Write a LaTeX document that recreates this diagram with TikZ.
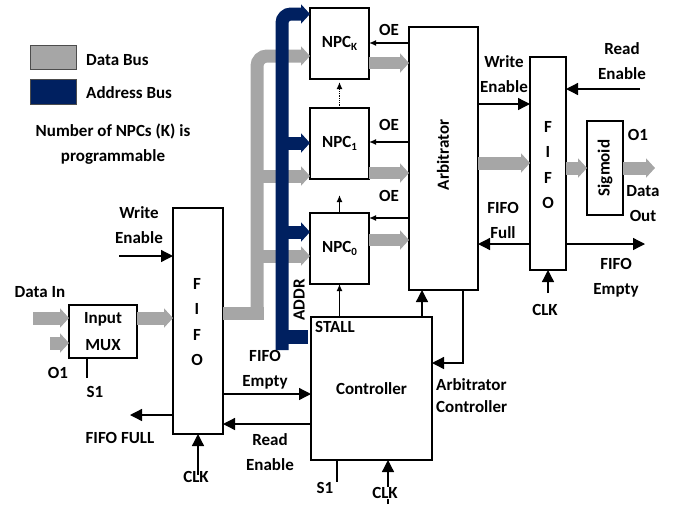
\documentclass[tikz,border=0pt]{standalone}
\usepackage{fontspec}
\setmainfont{Carlito}
\usetikzlibrary{arrows.meta,calc}
\definecolor{busgray}{HTML}{A6A6A6}
\definecolor{navy}{HTML}{002060}
\newcommand\lf{\fontsize{17}{25}\selectfont\bfseries}
\tikzset{
  box/.style={draw, line width=2pt, fill=white, inner sep=0pt, outer sep=0pt, font=\lf, align=center},
  lbl/.style={font=\lf, align=center, inner sep=0pt},
  sig/.style={line width=1.3pt},
  big/.style={sig, -{Triangle[length=12pt,width=12pt]}},
  sml/.style={sig, -{Latex[length=7pt,width=6pt]}},
  gbus/.style={draw=busgray, line width=13pt, -{Triangle[length=9pt,width=19pt]}, color=busgray},
  bbus/.style={draw=navy, line width=13pt, -{Triangle[length=9pt,width=19pt]}, color=navy},
}
\begin{document}
\begin{tikzpicture}[x=1pt,y=-1pt]
\useasboundingbox (0,0) rectangle (690,504);
% boxes
\node[box, minimum width=59pt, minimum height=71pt] (npck) at (339.5,43.5) {NPC\raisebox{-0.35ex}{\fontsize{11}{11}\selectfont K}};
\node[box, minimum width=59pt, minimum height=71pt] (npc1) at (339.5,143.5) {NPC\raisebox{-0.35ex}{\fontsize{11}{11}\selectfont 1}};
\node[box, minimum width=59pt, minimum height=71pt] (npc0) at (339.5,248.5) {NPC\raisebox{-0.35ex}{\fontsize{11}{11}\selectfont 0}};
\node[box, minimum width=69pt, minimum height=263pt] (arb) at (443.5,158.5) {};
\node[lbl, rotate=90] (arbt) at (443,155) {Arbitrator};
\node[box, minimum width=36pt, minimum height=213pt] (fifo2) at (548,163.5) {};
\node[lbl, font=\fontsize{17}{25.3}\selectfont\bfseries] (fifo2t) at (548,165) {F\\I\\F\\O};
\node[box, minimum width=36pt, minimum height=94pt] (sig) at (605,168) {};
\node[lbl, rotate=90] (sigt) at (605,168) {Sigmoid};
\node[box, minimum width=50pt, minimum height=226pt] (fifo1) at (198,321) {};
\node[lbl, font=\fontsize{17}{25.3}\selectfont\bfseries] (fifo1t) at (197,322) {F\\I\\F\\O};
\node[box, minimum width=68pt, minimum height=53pt, font=\fontsize{17}{27}\selectfont\bfseries] (mux) at (103,331.5) {Input\\MUX};
\node[box, minimum width=121pt, minimum height=143pt] (ctrl) at (371.5,388.5) {Controller};
\node[lbl, anchor=west] (stall) at (315,327) {STALL};

% legend
\filldraw[fill=busgray, draw=black!70, line width=0.8pt] (30,45) rectangle (76,69);
\filldraw[fill=navy, draw=black!70, line width=0.8pt] (30,79) rectangle (76,104);
\node[lbl, anchor=west] (lg1) at (86,60) {Data Bus};
\node[lbl, anchor=west] (lg2) at (86,93) {Address Bus};
\node[lbl] (note) at (113,144) {Number of NPCs (K) is\\programmable};

% gray data bus from input FIFO
\fill[busgray] (fifo1.east |- 0,306.5) rectangle (263.5,319.5);
\draw[gbus, rounded corners=10pt] (257,319.5) -- (257,56) -- (npck.west |- 0,56);
\draw[gbus] (257,176) -- (npc1.west |- 0,176);
\draw[gbus] (257,256) -- (npc0.west |- 0,256);
% address bus
\fill[navy] (275.5,330) rectangle (308,344);
\draw[bbus, rounded corners=9pt] (282,350) -- (282,14) -- (npck.west |- 0,14);
\draw[bbus] (282,143) -- (npc1.west |- 0,143);
\draw[bbus] (282,232) -- (npc0.west |- 0,232);
\node[lbl, rotate=90] (addr) at (299,300) {ADDR};

% NPC outputs to arbitrator
\draw[gbus, line width=12pt] (npck.east |- 0,63) -- (arb.west |- 0,63);
\draw[gbus, line width=12pt] (npc1.east |- 0,173) -- (arb.west |- 0,173);
\draw[gbus, line width=12pt] (npc0.east |- 0,240) -- (arb.west |- 0,240);
% OE
\draw[sml] (arb.west |- 0,43) -- (npck.east |- 0,43);
\draw[sml] (arb.west |- 0,142) -- (npc1.east |- 0,142);
\draw[sml] (arb.west |- 0,218) -- (npc0.east |- 0,218);
\node[lbl] (oe1) at (389,30) {OE};
\node[lbl] (oe2) at (389,125) {OE};
\node[lbl] (oe3) at (389,196) {OE};
% chain
\draw[sml, densely dotted] (npc1.north) -- ($(npck.south)+(0,3)$);
\draw[sml] (npc0.north) -- ($(npc0.north)+(0,-18)$);
\draw[sml] (ctrl.north -| npc0.south) -- (npc0.south);
% controller <-> arbitrator
\draw[big] (ctrl.north -| 422,0) -- (arb.south -| 422,0);
\draw[big] (arb.south -| 463,0) |- (ctrl.east |- 0,363);
\node[lbl, anchor=west] (arbctl) at (436,396) {\begin{tabular}{@{}l@{}}Arbitrator\\[-3pt]Controller\end{tabular}};

% output FIFO
\draw[big] (arb.east |- 0,104) -- (fifo2.west |- 0,104);
\node[lbl] (we2) at (504,74) {Write\\Enable};
\coordinate (re2) at (640,89);
\draw[big] (re2) -- (fifo2.east |- 0,89);
\node[lbl] (re2t) at (622,61) {Read\\Enable};
\draw[gbus] (arb.east |- 0,163) -- (fifo2.west |- 0,163);
\draw[gbus] (fifo2.east |- 0,168) -- (sig.west);
\coordinate (dout) at (655,168);
\draw[gbus] (sig.east) -- (dout);
\node[lbl] (o1b) at (638,135) {O1};
\node[lbl] (dot) at (643,204) {Data\\Out};
\draw[big] (fifo2.west |- 0,244) -- (arb.east |- 0,244);
\node[lbl] (ff2) at (503,220) {FIFO\\Full};
\coordinate (fe2) at (645,244);
\draw[big] (fifo2.east |- 0,244) -- (fe2);
\node[lbl] (fe2t) at (616,278) {FIFO\\Empty};
\coordinate (clk2) at (548,293);
\draw[big] (clk2) -- (fifo2.south);
\node[lbl] (clk2t) at (545,310) {CLK};

% input side
\coordinate (we1) at (119,256);
\draw[big] (we1) -- (fifo1.west |- 0,256);
\node[lbl] (we1t) at (139,225) {Write\\Enable};
\coordinate (din1) at (33,318);
\coordinate (din2) at (50,343);
\draw[gbus] (din1) -- (mux.west |- 0,318);
\draw[gbus] (din2) -- (mux.west |- 0,343);
\node[lbl] (dint) at (40,292) {Data In};
\draw[gbus] (mux.east |- 0,318) -- (fifo1.west |- 0,318);
\node[lbl] (o1a) at (58,373) {O1};
\coordinate (s1a) at (87,378);
\draw[sig] (mux.south -| s1a) -- (s1a);
\node[lbl] (s1at) at (95,392) {S1};
\coordinate (ffull) at (130,415);
\draw[big] (fifo1.west |- 0,415) -- (ffull);
\node[lbl] (fft) at (120,438) {FIFO FULL};
\coordinate (clk1) at (198,475);
\draw[big] (clk1) -- (fifo1.south);
\node[lbl] (clk1t) at (196,477) {CLK};
\draw[big] (fifo1.east |- 0,394) -- (ctrl.west |- 0,394);
\node[lbl] (fet) at (265,370) {FIFO\\Empty};
\draw[big] (ctrl.west |- 0,424) -- (fifo1.east |- 0,424);
\node[lbl] (ret) at (270,452) {Read\\Enable};
\coordinate (s1b) at (337,482);
\draw[sig] (ctrl.south -| s1b) -- (s1b);
\node[lbl] (s1bt) at (325,488) {S1};
\coordinate (clk3) at (388,504);
\draw[big] (clk3) -- (ctrl.south -| clk3);
\node[lbl, fill=white, inner sep=0.5pt] (clk3t) at (385,493) {CLK};
\end{tikzpicture}
\end{document}
